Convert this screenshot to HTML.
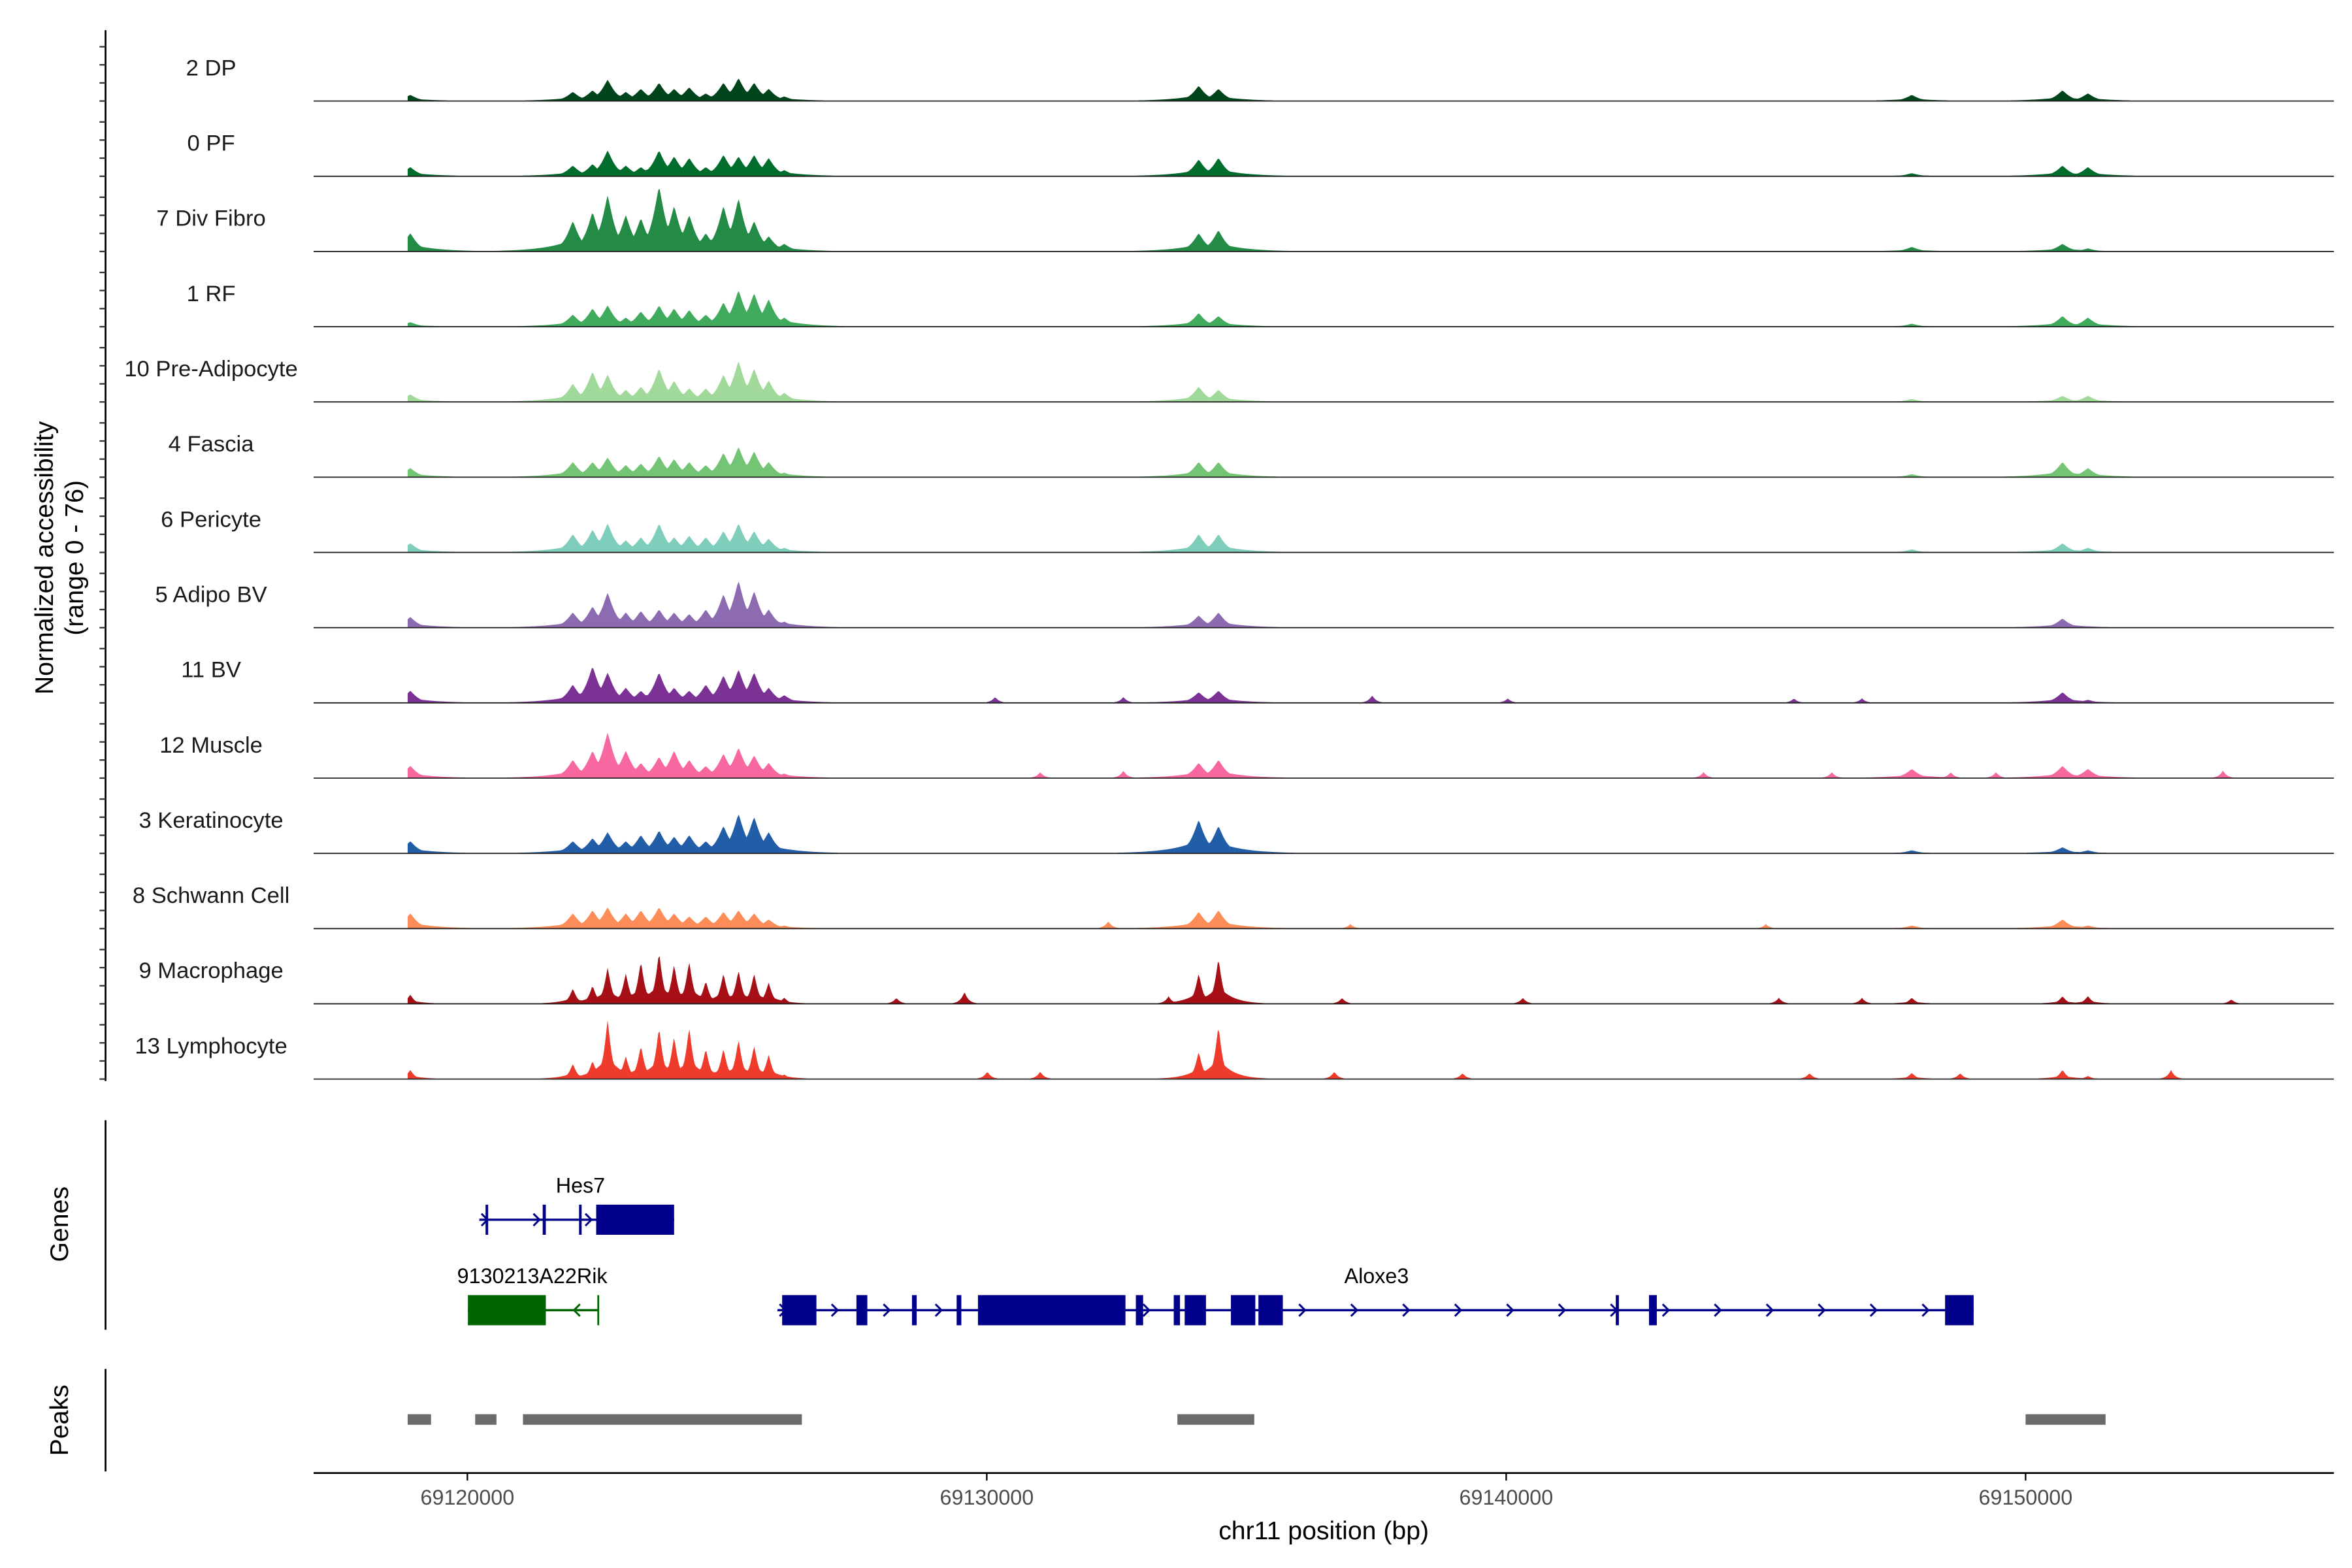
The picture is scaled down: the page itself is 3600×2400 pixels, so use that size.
<!DOCTYPE html>
<html><head><meta charset="utf-8">
<style>
html,body{margin:0;padding:0;background:#fff;}
svg{display:block;font-family:"Liberation Sans",Arial,sans-serif;}
</style></head>
<body>
<svg id="chart" width="3600" height="2400" viewBox="0 0 1560 1040" xmlns="http://www.w3.org/2000/svg">
  <g id="tracks"></g>
  <g id="yaxis">
    <line x1="70" y1="20" x2="70" y2="717" stroke="#000" stroke-width="1.2"/>
  </g>
  <text transform="translate(35,370) rotate(-90)" text-anchor="middle" font-size="17">Normalized accessibility</text>
  <text transform="translate(55,370) rotate(-90)" text-anchor="middle" font-size="17">(range 0 - 76)</text>

  <g id="genes">
    <line x1="70" y1="743" x2="70" y2="882" stroke="#000" stroke-width="1.2"/>
    <text transform="translate(45,812) rotate(-90)" text-anchor="middle" font-size="17">Genes</text>
  </g>
  <g id="peaks">
    <line x1="70" y1="908" x2="70" y2="976" stroke="#000" stroke-width="1.2"/>
    <text transform="translate(45,942) rotate(-90)" text-anchor="middle" font-size="17">Peaks</text>
  </g>
  <g id="xaxis">
    <line x1="208" y1="977" x2="1548" y2="977" stroke="#000" stroke-width="1.2"/>
    <text x="878" y="1021" text-anchor="middle" font-size="17">chr11 position (bp)</text>
  </g>
</svg>
<script>
const NS = "http://www.w3.org/2000/svg";
// ---------------- data ----------------
const trackNames = ["2 DP","0 PF","7 Div Fibro","1 RF","10 Pre-Adipocyte","4 Fascia","6 Pericyte","5 Adipo BV","11 BV","12 Muscle","3 Keratinocyte","8 Schwann Cell","9 Macrophage","13 Lymphocyte"];
const trackColors = ["#00441b","#006d2c","#238b45","#41ab5d","#a1d99b","#74c476","#7fcdbb","#8c6bb1","#7b3294","#f768a1","#225ea8","#fc8d59","#a50f15","#ef3b2c"];
const peakPositions = [69118900,69122030,69122410,69122700,69123050,69123340,69123690,69123980,69124270,69124590,69124930,69125220,69125520,69125800,69126100,69134080,69134460,69147810,69150710,69151200];
const hDP    = [4,6,7,14,6,8,12,8,9,5,12,15,12,8,3,10,8,4,7,5];
const hPF    = [6,7,8,17,7,6,17,13,12,6,14,13,14,12,4,11,12,2,7,6];
const hDiv   = [12,20,26,37,24,22,43,30,24,12,30,35,20,10,5,12,14,3,5,2];
const hRF    = [3,8,12,14,6,10,14,12,11,8,16,24,22,18,6,9,7,2,7,6];
const hPre   = [5,12,20,18,8,10,22,14,9,9,18,27,22,14,6,10,8,2,4,4];
const hFas   = [6,10,10,13,8,9,14,12,10,8,16,20,17,10,3,10,10,2,10,6];
const hPer   = [6,12,15,19,8,10,19,10,11,10,14,19,14,9,3,12,12,2,6,3];
const hAdBV  = [7,10,14,23,10,11,12,10,9,12,22,31,24,12,4,8,10,0,6,0];
const hBV    = [8,12,24,20,10,8,20,10,8,12,18,22,20,10,5,7,8,0,7,2];
const hMus   = [8,12,18,30,18,10,14,18,12,8,16,20,15,10,3,10,12,6,8,6];
const hKer   = [8,8,10,14,8,12,15,11,12,8,18,26,24,14,3,22,18,2,4,2];
const hSch   = [10,10,12,14,10,12,14,10,8,8,11,12,10,6,2,11,12,2,6,2];
const hMac   = [6,10,12,24,20,28,34,26,28,15,20,22,20,14,4,20,30,4,5,5];
const hLym   = [6,10,12,39,15,22,34,28,34,20,20,26,22,16,3,18,35,4,6,2];
const trackHeights = [hDP,hPF,hDiv,hRF,hPre,hFas,hPer,hAdBV,hBV,hMus,hKer,hSch,hMac,hLym];
const extraBV  = [[69130160,4],[69132630,4],[69137420,5],[69140030,3],[69145540,3],[69146850,3]];
const extraMus = [[69131030,4],[69132630,5],[69143800,4],[69146270,4],[69148560,4],[69149430,4],[69153800,5]];
const extraSch = [[69132340,5],[69137000,3],[69145000,3]];
const extraMac = [[69129570,8],[69128260,4],[69133500,5],[69136840,4],[69140320,4],[69145250,4],[69146850,4],[69153960,3]];
const extraLym = [[69130010,5],[69131030,5],[69136690,5],[69139160,4],[69145840,4],[69148740,4],[69152800,6]];
const trackExtras = [[],[],[],[],[],[],[],[],extraBV,extraMus,[],extraSch,extraMac,extraLym];
const xTicks = [69120000,69130000,69140000,69150000];
const peakRegions = [[69118850,69119300],[69120150,69120560],[69121070,69126440],[69133670,69135150],[69150000,69151540]];
const hes7Exons = [[69120350,69120400],[69121450,69121510],[69122150,69122200],[69122480,69123980]];
const hes7Span = [69120230,69123980];
const rikExons = [[69120010,69121510]];
const rikSpan = [69120010,69122520];
const aloxExons = [[69126060,69126720],[69127490,69127700],[69128560,69128650],[69129420,69129510],[69129830,69132670],[69132870,69133010],[69133600,69133720],[69133810,69134220],[69134700,69135170],[69135230,69135700],[69142110,69142170],[69142750,69142900],[69148450,69149000]];
const aloxSpan = [69125970,69149000];

// ---------------- scales ----------------
const bp0 = 69120000, px0 = 310, pxPerBp = 34.45/1000;
const xS = bp => px0 + (bp - bp0) * pxPerBp;
const baseY = i => 67 + 49.9 * i;
const yS = (v, i) => baseY(i) - v;

const tracks = document.getElementById('tracks');
const yaxis = document.getElementById('yaxis');

function mk(tag, attrs, parent){
  const e = document.createElementNS(NS, tag);
  for (const k in attrs) e.setAttribute(k, attrs[k]);
  parent.appendChild(e);
  return e;
}

const startBp = 69118850, endBp = 69155000, step = 25;
trackNames.forEach((name, i) => {
  const g = mk('g', {}, tracks);
  
  
  const hs = trackHeights[i];
  const narrow = (i >= 12);
  const w = narrow ? 90 : 170;
  let d = 'M' + xS(startBp).toFixed(2) + ',' + baseY(i).toFixed(2);
  for (let bp = startBp; bp <= endBp; bp += step) {
    let v = 0, base = 0;
    for (let k = 0; k < peakPositions.length; k++) {
      const h = hs[k]; if (!h) continue;
      const dist = Math.abs(bp - peakPositions[k]);
      const val = h * Math.exp(-Math.pow(dist / w, 1.2));
      if (val > v) v = val;
      base = Math.max(base, h * 0.4 * Math.exp(-dist / (w * 3)));
    }
    v = Math.max(v, base);
    trackExtras[i].forEach(([p, h]) => {
      const val = h * Math.exp(-Math.abs(bp - p) / 80);
      if (val > v) v = val;
    });
    if (v < 0.4) v = 0;
    d += 'L' + xS(bp).toFixed(2) + ',' + yS(v, i).toFixed(2);
  }
  d += 'L' + xS(endBp).toFixed(2) + ',' + baseY(i).toFixed(2) + 'Z';
  const p = mk('path', {d: d, fill: trackColors[i], stroke: 'none'}, g);
  
  
  const bl = mk('line', {x1: 208, x2: 1548, y1: baseY(i), y2: baseY(i), stroke: '#222', 'stroke-width': 0.8}, g);
  
  
  const t = mk('text', {x: 140, y: baseY(i) - 17, 'text-anchor': 'middle', 'font-size': 15, fill: '#1a1a1a'}, g);
  t.textContent = name;
  
  
  for (let k = 0; k < 4; k++) {
    const ty = baseY(i) - k * 12;
    const tk = mk('line', {x1: 66, x2: 70, y1: ty, y2: ty, stroke: '#333', 'stroke-width': 1}, yaxis);
    
    
  }
});

// ---------------- genes ----------------
const genes = document.getElementById('genes');
function drawGene(name, span, exons, y, color, dir, labelX, labelY) {
  const g = mk('g', {}, genes);
  
  
  const ln = mk('line', {x1: xS(span[0]), x2: xS(span[1]), y1: y, y2: y, stroke: color, 'stroke-width': 1.5}, g);
  
  
  exons.forEach(([a, b]) => {
    const r = mk('rect', {x: xS(a), y: y - 10, width: Math.max(xS(b) - xS(a), 1.5), height: 20, fill: color}, g);
    
    
  });
  for (let bp = span[0] + 100; bp < span[1]; bp += 1000) {
    const x = xS(bp);
    const a = mk('polyline', {points: (x - 2*dir) + ',' + (y - 4) + ' ' + (x + 2*dir) + ',' + y + ' ' + (x - 2*dir) + ',' + (y + 4), fill: 'none', stroke: color, 'stroke-width': 1.3}, g);
    
    
  }
  const t = mk('text', {x: labelX, y: labelY, 'text-anchor': 'middle', 'font-size': 14}, g);
  t.textContent = name;
  
  
}
drawGene('Hes7', hes7Span, hes7Exons, 809, '#00008b', 1, 385, 791);
drawGene('9130213A22Rik', rikSpan, rikExons, 869, '#006400', -1, 353, 851);
drawGene('Aloxe3', aloxSpan, aloxExons, 869, '#00008b', 1, 913, 851);
const tss = mk('line', {x1: xS(rikSpan[1]), x2: xS(rikSpan[1]), y1: 859, y2: 879, stroke: '#006400', 'stroke-width': 1.2}, genes);



// ---------------- peaks ----------------
const peaks = document.getElementById('peaks');
peakRegions.forEach(([a, b]) => {
  const r = mk('rect', {x: xS(a), y: 938, width: xS(b) - xS(a), height: 7, fill: '#6b6b6b'}, peaks);
  
  
});

// ---------------- x axis ----------------
const xaxis = document.getElementById('xaxis');
xTicks.forEach(v => {
  const tk = mk('line', {x1: xS(v), x2: xS(v), y1: 977, y2: 982, stroke: '#000', 'stroke-width': 1}, xaxis);
  
  
  const t = mk('text', {x: xS(v), y: 998, 'text-anchor': 'middle', 'font-size': 14, fill: '#4d4d4d'}, xaxis);
  t.textContent = v;
  
  
});
</script>
</body></html>
